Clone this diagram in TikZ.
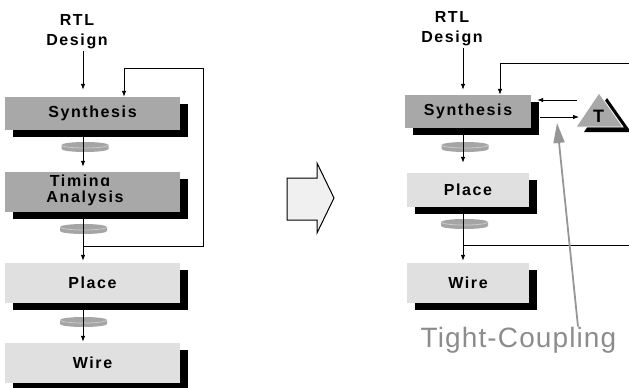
\documentclass[tikz,border=0pt]{standalone}
\usepackage{fontspec}
\setmainfont{Liberation Sans}
\newfontfamily\lblfont[LetterSpace=10]{Liberation Sans}
\newfontfamily\tcfont[LetterSpace=4]{Liberation Sans}
\usetikzlibrary{arrows.meta,shadows}

\definecolor{darkbox}{RGB}{168,168,168}
\definecolor{lightbox}{RGB}{224,224,224}
\definecolor{discgray}{RGB}{165,165,165}
\definecolor{discrim}{RGB}{205,205,205}
\definecolor{ptrgray}{RGB}{150,150,150}
\definecolor{tcgray}{RGB}{140,140,140}
\definecolor{bigarrow}{RGB}{240,240,240}

% flat drum sitting on a flow line
\newcommand{\drum}[1]{%
  \fill[discgray] ([xshift=-23.5pt,yshift=2pt]#1)
    arc[start angle=180,end angle=0,x radius=23.5pt,y radius=3pt]
    -- ++(0,4)
    arc[start angle=0,end angle=-180,x radius=23.5pt,y radius=3pt] -- cycle;
  \draw[discrim, line width=.7pt] ([xshift=-23.5pt,yshift=2pt]#1)
    arc[start angle=180,end angle=360,x radius=23.5pt,y radius=3pt];
}

\tikzset{
  lbl/.style={font=\lblfont\bfseries\fontsize{16}{20}\selectfont, inner sep=0pt, align=center},
  stage/.style={lbl, minimum width=175pt,
    drop shadow={shadow xshift=8pt, shadow yshift=-7pt, fill=black, opacity=1}},
  arr/.style={-{Latex[length=6pt,width=4.5pt]}, line width=.8pt},
  ptr/.style={draw=ptrgray, line width=1.8pt, -{Triangle[length=20pt,width=11pt]}},
}

\begin{document}
\begin{tikzpicture}[x=1pt,y=-1pt]
  \useasboundingbox (0,0) rectangle (629,388);

  % ---- old flow (left)
  \node[lbl, anchor=north] (rtlL) at (77,14.5) {RTL\\Design};
  \node[stage, fill=darkbox, minimum height=33pt] (synL) at (92.5,113.5) {Synthesis};
  \node[stage, fill=darkbox, minimum height=40pt] (timL) at (92.5,192) {};
  \node[lbl, anchor=base] (timA) at (80,186) {Timing};
  \node[lbl, anchor=base, fill=darkbox, inner sep=4pt] (timB) at (85,202) {Analysis};
  \node[stage, fill=lightbox, minimum height=40pt] (plL) at (92.5,283) {Place};
  \node[stage, fill=lightbox, minimum height=40pt] (wrL) at (92.5,363) {Wire};

  \drum{85,147}
  \drum{83.5,229}
  \drum{83.5,322}

  \coordinate (spL) at (83,0);
  \coordinate (fbL) at (83,246);
  \coordinate (loopL) at (203,68);
  \draw[arr, shorten <=2pt, shorten >=7pt] (rtlL.south -| spL) -- (synL.north -| spL);
  \draw[arr, shorten >=5pt] (synL.south -| spL) -- (timL.north -| spL);
  \draw[arr, shorten >=2pt] (timL.south -| spL) -- (plL.north -| spL);
  \draw[arr, shorten >=1pt] (plL.south -| spL) -- (wrL.north -| spL);
  % feedback after timing
  \draw[arr] (fbL) -| (loopL) -| ([xshift=31.5pt]synL.north);

  % ---- change arrow
  \filldraw[fill=bigarrow, line width=1pt] (287,178) -- (317,178) -- (317,163)
    -- (334,198) -- (317,233) -- (317,220) -- (287,220) -- cycle;

  % ---- new flow (right)
  \node[lbl, anchor=north] (rtlR) at (452,11.5) {RTL\\Design};
  \node[stage, fill=darkbox, minimum width=126pt, minimum height=33pt] (synR) at (468,111.5) {Synthesis};
  \node[stage, fill=lightbox, minimum width=122pt, minimum height=34pt] (plR) at (468,190) {Place};
  \node[stage, fill=lightbox, minimum width=122pt, minimum height=40pt] (wrR) at (468,283) {Wire};

  \drum{465,147}
  \drum{464.5,224}

  % timing engine
  \fill[black] (584,132) -- (607,98) -- (631,132) -- cycle;
  \filldraw[fill=darkbox, draw=white, line width=.8pt] (576,127) -- (599,93) -- (623,127) -- cycle;
  \node[lbl, font=\lblfont\bfseries\fontsize{18}{20}\selectfont] (tri) at (598.5,116.5) {T};

  \coordinate (spR) at (463,0);
  \coordinate (fbR) at (629,63);
  \coordinate (tapR) at (463,245);
  \coordinate (fbRlow) at (629,245);
  \coordinate (inT) at (577,100);
  \coordinate (outT) at (579,117);
  \draw[arr, shorten <=2pt, shorten >=5pt] (rtlR.south -| spR) -- (synR.north -| spR);
  \draw[arr, shorten >=10pt] (synR.south -| spR) -- (plR.north -| spR);
  \draw[arr, shorten >=2pt] (plR.south -| spR) -- (wrR.north -| spR);
  \draw[arr] (fbR) -| ([xshift=32pt]synR.north);
  \draw (tapR) -- (fbRlow);
  \draw[arr] (inT) -- ([xshift=6pt]inT -| synR.east);
  \draw[arr] ([xshift=9pt]outT -| synR.east) -- (outT);

  % label and pointer
  \node[font=\tcfont\fontsize{28}{30}\selectfont, text=tcgray, inner sep=0pt, anchor=base] (tc) at (518.5,347) {Tight-Coupling};
  \coordinate (tip) at (557,123);
  \draw[ptr] ([xshift=59.5pt]tc.north) -- (tip);
\end{tikzpicture}
\end{document}
